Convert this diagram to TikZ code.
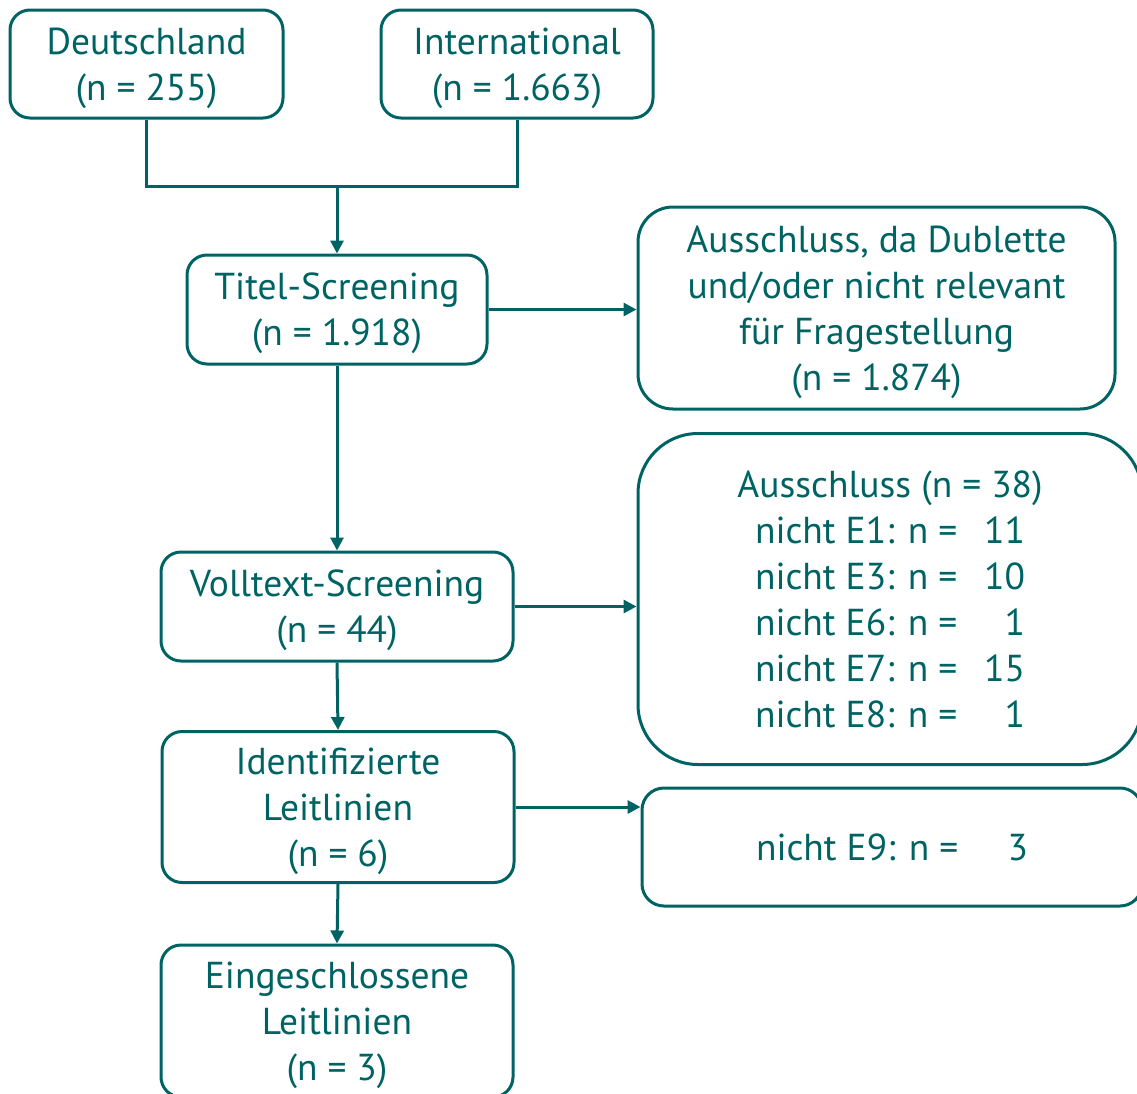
\documentclass[tikz,border=0pt]{standalone}
\usepackage{fontspec}
\setmainfont{PT Sans}
\usetikzlibrary{arrows.meta}
\definecolor{teal}{RGB}{0,99,99}
\begin{document}
\begin{tikzpicture}[x=1pt,y=-1pt,
  box/.style={draw=teal, line width=3pt, rounded corners=20pt, text=teal,
    align=center, inner sep=0pt, text depth=0pt, font=\fontsize{37.5}{46}\selectfont},
  link/.style={draw=teal, line width=3pt},
  arr/.style={link, -{Triangle[length=13pt,width=13pt]}}]
\useasboundingbox (0,0) rectangle (1137,1093);
\clip (0,0) rectangle (1137,1093);
\node[box, minimum width=273pt, minimum height=108pt] (de) at (146.5,64) {Deutschland\\(n = 255)};
\node[box, minimum width=272pt, minimum height=108pt] (int) at (517,64) {International\\(n = 1.663)};
\node[box, minimum width=300pt, minimum height=109pt] (titel) at (337,309.5) {Titel-Screening\\(n = 1.918)};
\node[box, rounded corners=35pt, minimum width=477pt, minimum height=202pt] (dub) at (876.5,308) {Ausschluss, da Dublette\\und/oder nicht relevant\\für Fragestellung\\(n = 1.874)};
\node[box, minimum width=352pt, minimum height=109pt] (voll) at (337,606.5) {Volltext-Screening\\(n = 44)};
\node[box, rounded corners=60pt, minimum width=504pt, minimum height=331pt] (ex) at (890,599)
  {Ausschluss (n = 38)\\
   \makebox[270pt]{nicht E1: n =\hfill 11}\\
   \makebox[270pt]{nicht E3: n =\hfill 10}\\
   \makebox[270pt]{nicht E6: n =\hfill 1}\\
   \makebox[270pt]{nicht E7: n =\hfill 15}\\
   \makebox[270pt]{nicht E8: n =\hfill 1}};
\node[box, minimum width=352pt, minimum height=151pt] (ident) at (338,807) {Identifizierte\\Leitlinien\\(n = 6)};
\node[box, rounded corners=22pt, minimum width=500pt, minimum height=118pt] (e9) at (892,847)
  {\makebox[272pt]{nicht E9: n =\hfill 3}};
\node[box, minimum width=352pt, minimum height=152pt] (ein) at (337,1021) {Eingeschlossene\\Leitlinien\\(n = 3)};
\coordinate (j) at (337,186);
\draw[link] (de.south) |- (j) -| (int.south);
\draw[arr] (j) -- (titel.north);
\draw[arr] (titel.east) -- (titel.east -| dub.west);
\draw[arr] (titel.south) -- (voll.north);
\draw[arr] (voll.east) -- (voll.east -| ex.west);
\draw[arr] (voll.south) -- (ident.north);
\draw[arr] (ident.east) -- (ident.east -| e9.west);
\draw[arr] (ident.south) -- (ein.north);
\end{tikzpicture}
\end{document}
